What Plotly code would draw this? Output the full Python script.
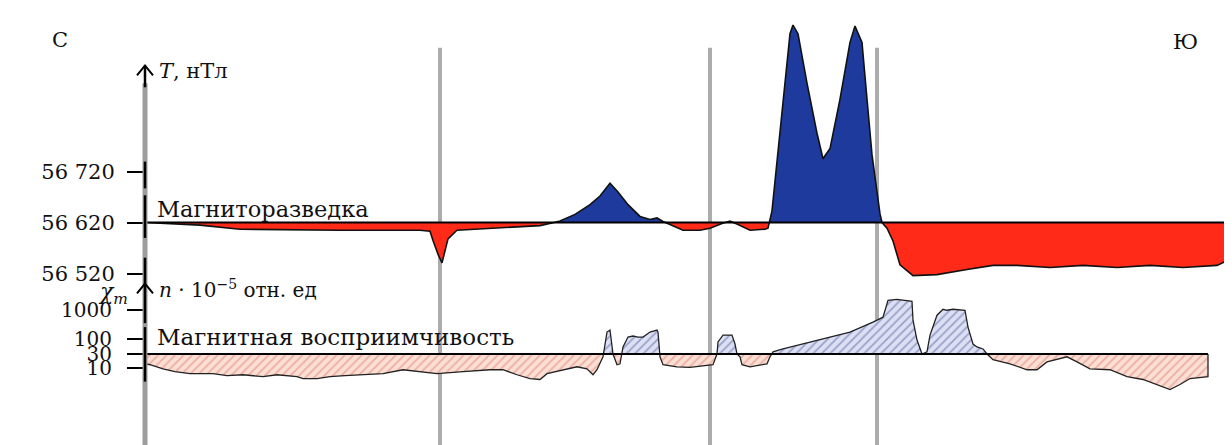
import numpy as np
import plotly.graph_objects as go

# ---------------- data (distance along profile, arbitrary units) ----------------
dist_T = [0, 55, 95, 195, 275, 285, 288, 293, 297, 300, 303, 312, 362, 395, 407, 415,
          430, 445, 455, 465, 473, 483, 495, 505, 512, 518, 525, 538, 555, 565, 577, 585,
          593, 605, 620, 623, 627, 631, 635, 640, 645, 648, 653, 662, 672, 678, 685, 695,
          705, 710, 717, 722, 727, 732, 735, 737, 742, 748, 755, 768, 792, 822, 848, 872,
          905, 938, 972, 1005, 1038, 1072, 1082, 1083]
field_T = [56620, 56615, 56607, 56605, 56605, 56603, 56585, 56558, 56541, 56563, 56588, 56605,
           56611, 56614, 56619, 56623, 56636, 56655, 56672, 56697, 56680, 56655, 56632, 56626,
           56629, 56622, 56616, 56605, 56605, 56609, 56618, 56623, 56616, 56605, 56607, 56609,
           56643, 56720, 56798, 56900, 56990, 57007, 56990, 56893, 56795, 56745, 56765, 56862,
           56973, 57005, 56973, 56862, 56753, 56680, 56637, 56620, 56609, 56584, 56537, 56516,
           56518, 56528, 56536, 56536, 56532, 56536, 56532, 56536, 56532, 56536, 56545, 56620]
T_base = 56620

dist_chi = [0, 5, 18, 30, 45, 68, 82, 98, 118, 132, 152, 158, 172, 185, 200, 218, 238, 258,
            272, 292, 318, 345, 358, 372, 385, 395, 402, 418, 432, 442, 448, 452, 458, 462,
            465, 468, 472, 475, 478, 483, 488, 493, 498, 505, 512, 513, 515, 518, 532, 545,
            558, 568, 572, 573, 578, 587, 590, 592, 595, 597, 605, 622, 625, 628, 638, 672,
            705, 728, 738, 743, 752, 767, 768, 772, 777, 782, 785, 792, 798, 802, 808, 820,
            823, 828, 832, 838, 842, 848, 865, 882, 892, 902, 922, 932, 945, 965, 982, 998,
            1012, 1025, 1035, 1045, 1063, 1063]
chi_vals = [14, 12.7, 9.2, 7.3, 6.2, 6.2, 5.3, 5.7, 4.9, 5.7, 4.9, 4.2, 4.2, 4.9, 5.3, 5.7,
            6.2, 8.5, 7.3, 6.2, 7.3, 8.5, 8.5, 5.7, 4.2, 3.9, 6.2, 8.5, 10.8, 9.2, 5.7, 8.5,
            24, 174, 204, 30, 12.7, 13.7, 53, 117, 127, 117, 117, 174, 204, 174, 24, 12.7,
            10.8, 10.3, 11.5, 12.7, 30, 79, 137, 137, 67, 30, 24, 12.7, 10.8, 13.7, 24, 36,
            45, 92, 174, 385, 574, 2212, 2395, 2043, 452, 92, 30, 36, 137, 673, 1083, 1000,
            1083, 1000, 259, 67, 53, 45, 30, 19, 13.7, 8.5, 8.5, 16, 24, 16, 9.2, 8.5, 4.9,
            3.9, 2.6, 1.74, 2.6, 4.2, 4.9, 30]
chi_base = 30

boundaries = [295, 565, 732]

T_ticks = [56520, 56620, 56720]
T_ticktext = ["56 520", "56 620", "56 720"]
chi_ticks = [10, 30, 100, 1000]
chi_ticktext = ["10", "30", "100", "1000"]

# ---------------- geometry helpers ----------------
# The page body adds an 8px offset, so layout is expressed in target-picture pixels
# and shifted back by OFF.
W, H = 1232, 445
OFF = 8
AX_PX = 145           # target x of the vertical axis
RIGHT_PX = 1228       # target x of the right end of the profile
L = AX_PX - OFF
R = W - (RIGHT_PX - OFF)
PW = W - L - R


def xp(px):
    return (px - AX_PX) / PW


def yp(py):
    return 1 - (py - OFF) / H


def split_fill(x, y, base, log=False):
    x = np.asarray(x, float)
    y = np.asarray(y, float)
    t = np.log10(y) if log else y.copy()
    b = np.log10(base) if log else float(base)
    xs, ts = [x[0]], [t[0]]
    for i in range(1, len(x)):
        d0, d1 = t[i - 1] - b, t[i] - b
        if d0 * d1 < 0:
            f = d0 / (d0 - d1)
            xs.append(x[i - 1] + f * (x[i] - x[i - 1]))
            ts.append(b)
        xs.append(x[i])
        ts.append(t[i])
    xs, ts = np.array(xs), np.array(ts)
    up, dn = np.maximum(ts, b), np.minimum(ts, b)
    if log:
        up, dn = 10 ** up, 10 ** dn
    return xs, up, dn


FONT = "DejaVu Serif"
fig = go.Figure()

# ---- total field (T) ----
xs, up, dn = split_fill(dist_T, field_T, T_base)
baseT = np.full(len(xs), T_base)
fig.add_trace(go.Scatter(x=xs, y=baseT, mode="lines", line=dict(width=0), hoverinfo="skip", yaxis="y"))
fig.add_trace(go.Scatter(x=xs, y=up, mode="lines", line=dict(width=0), fill="tonexty",
                         fillcolor="#1d3a9c", hoverinfo="skip", yaxis="y"))
fig.add_trace(go.Scatter(x=xs, y=baseT, mode="lines", line=dict(width=0), hoverinfo="skip", yaxis="y"))
fig.add_trace(go.Scatter(x=xs, y=dn, mode="lines", line=dict(width=0), fill="tonexty",
                         fillcolor="#ff2a18", hoverinfo="skip", yaxis="y"))
fig.add_trace(go.Scatter(x=dist_T, y=field_T, mode="lines", line=dict(color="#111", width=1.6),
                         yaxis="y"))
fig.add_trace(go.Scatter(x=[dist_T[0], dist_T[-1]], y=[T_base, T_base], mode="lines",
                         line=dict(color="black", width=2), yaxis="y"))

# ---- susceptibility (log) ----
xs2, up2, dn2 = split_fill(dist_chi, chi_vals, chi_base, log=True)
baseC = np.full(len(xs2), chi_base)
fig.add_trace(go.Scatter(x=xs2, y=baseC, mode="lines", line=dict(width=0), hoverinfo="skip", yaxis="y2"))
fig.add_trace(go.Scatter(x=xs2, y=up2, mode="lines", line=dict(width=0), fill="tonexty",
                         fillcolor="#dde0f4",
                         fillpattern=dict(shape="/", bgcolor="#dde0f4", fgcolor="#53639c",
                                          size=6, solidity=0.3),
                         hoverinfo="skip", yaxis="y2"))
fig.add_trace(go.Scatter(x=xs2, y=baseC, mode="lines", line=dict(width=0), hoverinfo="skip", yaxis="y2"))
fig.add_trace(go.Scatter(x=xs2, y=dn2, mode="lines", line=dict(width=0), fill="tonexty",
                         fillcolor="#fbded4",
                         fillpattern=dict(shape="/", bgcolor="#fbded4", fgcolor="#dc7e6c",
                                          size=6, solidity=0.3),
                         hoverinfo="skip", yaxis="y2"))
fig.add_trace(go.Scatter(x=dist_chi, y=chi_vals, mode="lines", line=dict(color="#222", width=1.3),
                         yaxis="y2"))
fig.add_trace(go.Scatter(x=[dist_chi[0], dist_chi[-1]], y=[chi_base, chi_base], mode="lines",
                         line=dict(color="black", width=2), yaxis="y2"))

# ---------------- shapes ----------------
shapes = []
for b in boundaries:
    shapes.append(dict(type="line", xref="x", yref="paper", x0=b, x1=b, y0=yp(48), y1=0,
                       line=dict(color="#acacac", width=4), layer="below"))
# vertical axis: grey core with black segments
shapes.append(dict(type="line", xref="paper", yref="paper", x0=0, x1=0, y0=yp(84), y1=0,
                   line=dict(color="#9c9c9c", width=5)))
for a, b in [(66, 88), (163, 190), (197, 240), (260, 326), (330, 385)]:
    shapes.append(dict(type="line", xref="paper", yref="paper", x0=0, x1=0, y0=yp(a), y1=yp(b),
                       line=dict(color="black", width=2.5)))
# arrow chevrons
for tip in (66, 286):
    path = f"M {xp(137)} {yp(tip + 10)} L {xp(145)} {yp(tip)} L {xp(153)} {yp(tip + 10)}"
    shapes.append(dict(type="path", xref="paper", yref="paper", path=path,
                       line=dict(color="black", width=2)))


# ---------------- text ----------------
def txt(text, px, py, xanchor="left", size=20):
    return dict(text=text, xref="paper", yref="paper", x=xp(px), y=yp(py), showarrow=False,
                xanchor=xanchor, yanchor="middle", font=dict(family=FONT, size=size, color="#111"))


annotations = [
    txt("С", 60, 40, "center", 21),
    txt("Ю", 1185, 42, "center", 21),
    txt("<i>T</i>, нТл", 157, 72, "left", 21),
    txt("Магниторазведка", 155, 211, "left", 22.5),
    txt("<i>n</i> · 10<sup>−5</sup> отн. ед", 157, 292, "left", 20),
    txt("<i>χ<sub>m</sub></i>", 130, 296, "right", 22),
    txt("Магнитная восприимчивость", 155, 340, "left", 23),
]

T_range = [T_base - (284 - 224.5) / 0.515, T_base + (224.5 - 18) / 0.515]
chi_bottom_px = H + OFF
chi_range = [3 - (chi_bottom_px - 313) / 29, 3 + (313 - 286) / 29]

fig.update_layout(
    width=W, height=H,
    margin=dict(l=L, r=R, t=0, b=0),
    paper_bgcolor="white", plot_bgcolor="white",
    showlegend=False,
    shapes=shapes, annotations=annotations,
    xaxis=dict(visible=False, range=[dist_T[0], dist_T[-1]]),
    yaxis=dict(domain=[yp(284), yp(18)], range=T_range, showgrid=False, zeroline=False,
               showline=False, ticks="outside", ticklen=17, tickwidth=2, tickcolor="black",
               tickvals=T_ticks, ticktext=T_ticktext, ticklabelstandoff=8,
               tickfont=dict(family=FONT, size=21, color="#111")),
    yaxis2=dict(domain=[0, yp(286)], type="log", range=chi_range, anchor="x", showgrid=False,
                zeroline=False, showline=False, ticks="outside", ticklen=17, tickwidth=2,
                tickcolor="black", tickvals=chi_ticks, ticktext=chi_ticktext,
                ticklabelstandoff=11, tickfont=dict(family=FONT, size=20, color="#111")),
)

fig.write_html("out.html")
